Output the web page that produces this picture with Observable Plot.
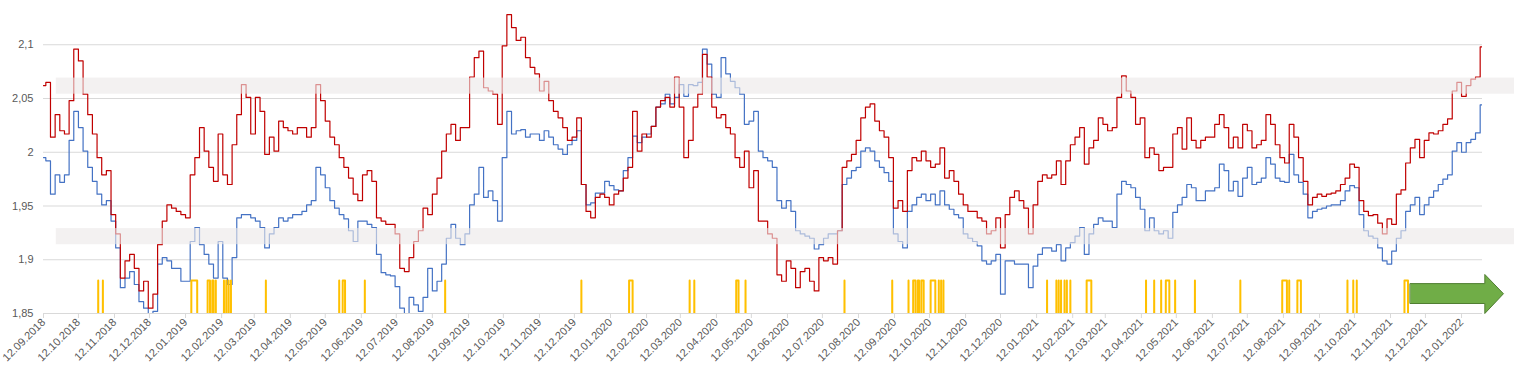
<!DOCTYPE html>
<html>
<head>
<meta charset="utf-8">
<script src="https://cdn.jsdelivr.net/npm/d3@7"></script>
<script src="https://cdn.jsdelivr.net/npm/@observablehq/plot@0.6"></script>
<style>
  html, body { margin: 0; padding: 0; background: #ffffff; }
  #chart svg { display: block; }
</style>
</head>
<body>
<div id="chart"></div>
<script>
// ---------- DATA ----------
const startDate = "2018-09-12";   // first observation
const endDate = "2022-01-30";     // last observation / end of the date axis
const stepDays = 4;               // observations read every 4 days

const redValues = [
  2.062, 2.065, 2.014, 2.035, 2.020, 2.017, 2.048, 2.096, 2.085, 2.054,
  2.035, 2.017, 1.995, 1.979, 1.983, 1.942, 1.924, 1.883, 1.899, 1.905,
  1.892, 1.871, 1.880, 1.855, 1.868, 1.914, 1.936, 1.951, 1.948, 1.945,
  1.942, 1.939, 1.979, 1.995, 2.023, 2.001, 1.986, 1.973, 2.017, 1.979,
  1.970, 2.007, 2.035, 2.063, 2.051, 2.017, 2.051, 2.038, 1.998, 2.014,
  2.001, 2.029, 2.023, 2.020, 2.017, 2.023, 2.023, 2.014, 2.023, 2.063,
  2.048, 2.029, 2.014, 2.007, 1.995, 1.986, 1.976, 1.961, 1.955, 1.979,
  1.983, 1.973, 1.939, 1.936, 1.933, 1.933, 1.924, 1.892, 1.889, 1.902,
  1.917, 1.927, 1.948, 1.942, 1.961, 1.976, 2.001, 2.017, 2.026, 2.011,
  2.023, 2.023, 2.070, 2.088, 2.094, 2.060, 2.057, 2.054, 2.026, 2.099,
  2.128, 2.116, 2.104, 2.107, 2.088, 2.079, 2.073, 2.057, 2.066, 2.048,
  2.038, 2.032, 2.023, 2.011, 2.014, 2.032, 1.970, 1.945, 1.939, 1.958,
  1.961, 1.958, 1.951, 1.961, 1.964, 1.976, 1.986, 2.038, 2.001, 2.017,
  2.014, 2.024, 2.042, 2.048, 2.051, 2.042, 2.070, 2.042, 1.995, 2.011,
  2.042, 2.054, 2.091, 2.070, 2.042, 2.032, 2.035, 2.023, 2.017, 1.995,
  1.986, 2.001, 1.967, 1.983, 1.936, 1.936, 1.924, 1.920, 1.886, 1.880,
  1.899, 1.892, 1.874, 1.889, 1.892, 1.880, 1.871, 1.902, 1.899, 1.902,
  1.896, 1.927, 1.986, 1.992, 1.998, 2.011, 2.032, 2.042, 2.045, 2.029,
  2.020, 2.014, 1.995, 1.948, 1.955, 1.945, 1.983, 1.995, 1.992, 2.001,
  1.992, 1.986, 1.989, 2.004, 1.976, 1.983, 1.973, 1.961, 1.951, 1.945,
  1.945, 1.939, 1.936, 1.924, 1.927, 1.939, 1.911, 1.942, 1.958, 1.964,
  1.955, 1.948, 1.924, 1.951, 1.973, 1.979, 1.976, 1.979, 1.992, 1.970,
  1.992, 2.007, 2.014, 2.023, 1.989, 2.004, 2.011, 2.032, 2.026, 2.020,
  2.023, 2.051, 2.071, 2.057, 2.051, 2.026, 2.032, 1.995, 2.004, 1.998,
  1.983, 1.986, 1.986, 2.017, 2.023, 2.003, 2.032, 2.011, 2.004, 2.011,
  2.014, 2.014, 2.026, 2.035, 2.023, 2.004, 2.014, 2.004, 2.026, 2.020,
  2.004, 2.007, 2.011, 2.035, 2.026, 2.007, 1.995, 1.990, 2.026, 2.014,
  1.995, 1.973, 1.951, 1.958, 1.961, 1.959, 1.961, 1.962, 1.964, 1.970,
  1.976, 1.989, 1.986, 1.955, 1.945, 1.941, 1.942, 1.934, 1.924, 1.938,
  1.933, 1.961, 1.965, 1.990, 2.004, 2.012, 1.995, 2.011, 2.018, 2.017,
  2.020, 2.026, 2.031, 2.057, 2.065, 2.052, 2.062, 2.068, 2.070, 2.098
];

const blueValues = [
  1.995, 1.992, 1.961, 1.979, 1.972, 1.979, 2.011, 2.038, 2.023, 2.001,
  1.986, 1.973, 1.961, 1.951, 1.955, 1.936, 1.911, 1.874, 1.883, 1.889,
  1.877, 1.861, 1.855, 1.846, 1.852, 1.896, 1.902, 1.899, 1.892, 1.892,
  1.880, 1.880, 1.917, 1.930, 1.914, 1.905, 1.896, 1.883, 1.917, 1.883,
  1.877, 1.902, 1.939, 1.942, 1.942, 1.939, 1.936, 1.930, 1.911, 1.924,
  1.930, 1.939, 1.936, 1.939, 1.942, 1.942, 1.945, 1.951, 1.955, 1.986,
  1.979, 1.967, 1.955, 1.948, 1.942, 1.938, 1.927, 1.917, 1.936, 1.936,
  1.933, 1.930, 1.905, 1.888, 1.886, 1.885, 1.875, 1.855, 1.847, 1.865,
  1.858, 1.852, 1.865, 1.892, 1.871, 1.880, 1.896, 1.920, 1.933, 1.920,
  1.914, 1.924, 1.951, 1.961, 1.986, 1.958, 1.964, 1.955, 1.936, 1.995,
  2.038, 2.017, 2.020, 2.021, 2.014, 2.017, 2.017, 2.011, 2.020, 2.014,
  2.007, 2.003, 1.998, 2.007, 2.011, 2.020, 1.970, 1.951, 1.953, 1.962,
  1.962, 1.973, 1.969, 1.965, 1.964, 1.983, 1.995, 2.015, 2.009, 2.014,
  2.017, 2.024, 2.042, 2.045, 2.054, 2.045, 2.051, 2.063, 2.052, 2.063,
  2.062, 2.065, 2.096, 2.082, 2.054, 2.051, 2.088, 2.073, 2.066, 2.060,
  2.054, 2.026, 2.029, 2.038, 2.001, 1.995, 1.992, 1.986, 1.955, 1.948,
  1.955, 1.945, 1.927, 1.924, 1.922, 1.920, 1.910, 1.914, 1.920, 1.924,
  1.924, 1.927, 1.970, 1.976, 1.983, 1.986, 2.001, 2.004, 2.001, 1.992,
  1.986, 1.981, 1.973, 1.924, 1.917, 1.911, 1.945, 1.951, 1.958, 1.961,
  1.955, 1.961, 1.951, 1.964, 1.951, 1.947, 1.942, 1.939, 1.924, 1.920,
  1.917, 1.913, 1.899, 1.896, 1.899, 1.905, 1.868, 1.899, 1.899, 1.896,
  1.896, 1.896, 1.874, 1.894, 1.905, 1.911, 1.911, 1.908, 1.914, 1.899,
  1.911, 1.916, 1.922, 1.930, 1.905, 1.924, 1.933, 1.939, 1.936, 1.936,
  1.930, 1.961, 1.973, 1.970, 1.967, 1.958, 1.947, 1.927, 1.939, 1.927,
  1.924, 1.927, 1.920, 1.944, 1.951, 1.958, 1.970, 1.967, 1.955, 1.955,
  1.964, 1.964, 1.967, 1.989, 1.983, 1.964, 1.973, 1.959, 1.976, 1.986,
  1.970, 1.972, 1.976, 1.995, 1.989, 1.976, 1.973, 1.972, 1.998, 1.979,
  1.972, 1.961, 1.939, 1.945, 1.947, 1.948, 1.950, 1.951, 1.951, 1.955,
  1.964, 1.969, 1.967, 1.942, 1.927, 1.922, 1.920, 1.911, 1.899, 1.896,
  1.908, 1.920, 1.927, 1.945, 1.951, 1.958, 1.942, 1.951, 1.958, 1.964,
  1.970, 1.975, 1.979, 2.001, 2.009, 2.000, 2.009, 2.012, 2.018, 2.044
];

// signal days (yellow marks): runs of consecutive days [start, end]
const signalStart = [
  "2018-10-29", "2018-11-02", "2019-01-17", "2019-01-31", "2019-02-04", "2019-02-07",
  "2019-02-14", "2019-02-16", "2019-02-18", "2019-02-20", "2019-03-22", "2019-05-24",
  "2019-05-27", "2019-06-15", "2019-08-23", "2019-12-18", "2020-01-28", "2020-03-20",
  "2020-03-24", "2020-04-29", "2020-05-07", "2020-07-31", "2020-09-10", "2020-09-24",
  "2020-09-28", "2020-10-02", "2020-10-05", "2020-10-13", "2020-10-20", "2020-10-22",
  "2020-10-24", "2021-01-21", "2021-01-29", "2021-01-31", "2021-02-02", "2021-02-05",
  "2021-02-07", "2021-02-10", "2021-02-24", "2021-04-16", "2021-04-23", "2021-04-29",
  "2021-05-03", "2021-05-11", "2021-05-28", "2021-07-06", "2021-08-11", "2021-08-17",
  "2021-08-24", "2021-10-06", "2021-10-11", "2021-10-14", "2021-11-24"
];
const signalEnd = [
  "2018-10-29", "2018-11-02", "2019-01-22", "2019-02-02", "2019-02-05", "2019-02-07",
  "2019-02-14", "2019-02-16", "2019-02-18", "2019-02-20", "2019-03-22", "2019-05-24",
  "2019-05-29", "2019-06-15", "2019-08-23", "2019-12-18", "2020-01-31", "2020-03-20",
  "2020-03-24", "2020-05-01", "2020-05-07", "2020-07-31", "2020-09-10", "2020-09-24",
  "2020-09-30", "2020-10-03", "2020-10-07", "2020-10-17", "2020-10-20", "2020-10-22",
  "2020-10-24", "2021-01-21", "2021-01-29", "2021-01-31", "2021-02-02", "2021-02-05",
  "2021-02-07", "2021-02-10", "2021-02-28", "2021-04-16", "2021-04-23", "2021-04-29",
  "2021-05-06", "2021-05-11", "2021-05-28", "2021-07-06", "2021-08-15", "2021-08-17",
  "2021-08-27", "2021-10-06", "2021-10-11", "2021-10-14", "2021-11-27"
];
const signalLevel = 1.8807;
const signalOff = 1.0;

// shaded zones
const bandStart = ["2018-09-23", "2018-09-23"];
const bandEnd = ["2022-03-05", "2022-03-05"];
const bandLow = [2.054, 1.914];
const bandHigh = [2.069, 1.929];

// arrow annotation (outline vertices, date / value)
const arrowDates = ["2021-11-29", "2022-02-01", "2022-02-01", "2022-02-17", "2022-02-01", "2022-02-01", "2021-11-29"];
const arrowValues = [1.8778, 1.8778, 1.8863, 1.8684, 1.8500, 1.8593, 1.8593];

// axes
const yTicks = [1.85, 1.9, 1.95, 2, 2.05, 2.1];
const yDomain = [1.85, 2.13];
const tickDay = 12;
const tickMonthCount = 41; // 12.09.2018 ... 12.01.2022

// ---------- BUILD ----------
const parse = d3.utcParse("%Y-%m-%d");
const t0 = parse(startDate);
const t1 = parse(endDate);

const red = redValues.map((v, i) => ({date: d3.utcDay.offset(t0, i * stepDays), value: v}));
const blue = blueValues.map((v, i) => ({date: d3.utcDay.offset(t0, i * stepDays), value: v}));

const runs = signalStart.map((s, i) => [parse(s), parse(signalEnd[i])]);
const sigDays = d3.utcDay.range(d3.utcDay.offset(runs[0][0], -3), d3.utcDay.offset(runs[runs.length - 1][1], 4));
const signal = sigDays.map(d => ({date: d, value: runs.some(([a, b]) => d >= a && d <= b) ? signalLevel : signalOff}));

const bands = bandStart.map((s, i) => ({x1: parse(s), x2: parse(bandEnd[i]), y1: bandLow[i], y2: bandHigh[i]}));
const arrow = arrowDates.map((d, i) => ({date: parse(d), value: arrowValues[i]}));

const xTicks = d3.range(tickMonthCount).map(i => new Date(Date.UTC(2018, 8 + i, tickDay)));
const fmtX = d3.utcFormat("%d.%m.%Y");
const fmtY = d => String(d).replace(".", ",");

const chart = Plot.plot({
  width: 1514,
  height: 374,
  marginLeft: 43,
  marginRight: 32,
  marginTop: 12,
  marginBottom: 61,
  style: {
    fontFamily: "'Liberation Sans', Arial, sans-serif",
    fontSize: "11px",
    color: "#595959",
    background: "#ffffff",
    overflow: "visible"
  },
  x: {type: "utc", domain: [t0, t1]},
  y: {domain: yDomain},
  marks: [
    Plot.ruleY(yTicks, {stroke: "#d9d9d9", strokeWidth: 1}),
    Plot.axisY({ticks: yTicks, tickSize: 0, tickPadding: 10, tickFormat: fmtY, label: null, fill: "#595959"}),
    Plot.axisX({ticks: xTicks, tickSize: 5, tickPadding: 2, tickRotate: -45, tickFormat: fmtX, label: null, stroke: "#d9d9d9", fill: "#595959"}),
    Plot.line(blue, {x: "date", y: "value", curve: "step", stroke: "#4472c4", strokeWidth: 1.2, clip: true}),
    Plot.line(red, {x: "date", y: "value", curve: "step", stroke: "#c00000", strokeWidth: 1.2, clip: true}),
    Plot.rect(bands, {x1: "x1", x2: "x2", y1: "y1", y2: "y2", fill: "#ebe8e8", fillOpacity: 0.62}),
    Plot.line(signal, {x: "date", y: "value", stroke: "#ffc000", strokeWidth: 2, clip: true}),
    Plot.line(arrow, {x: "date", y: "value", curve: "linear-closed", fill: "#70ad47", stroke: "#507e32", strokeWidth: 1})
  ]
});

document.getElementById("chart").appendChild(chart);
</script>
</body>
</html>
